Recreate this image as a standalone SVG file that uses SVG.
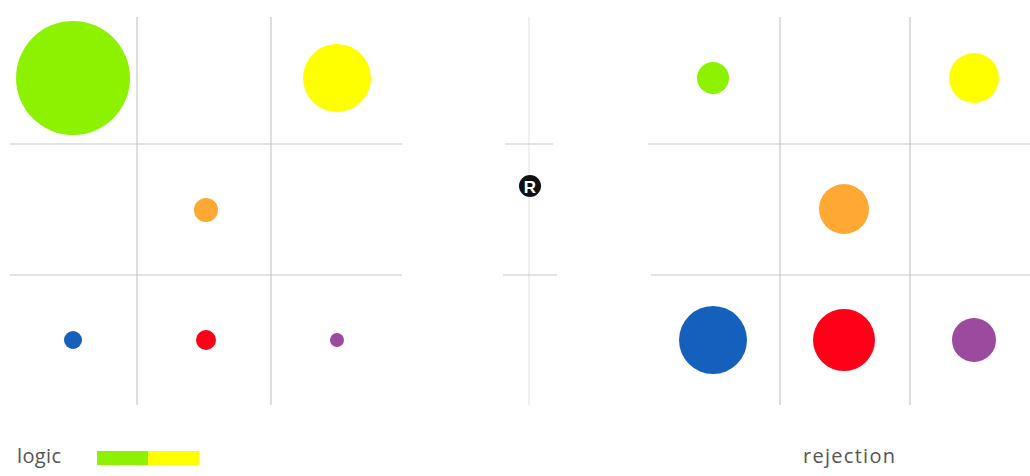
<svg xmlns="http://www.w3.org/2000/svg" width="1030" height="476" viewBox="0 0 1030 476">
<style>
.grid{stroke:#c8c8c8;stroke-width:1.2;fill:none}
.lbl{font-family:"Open Sans","Liberation Sans",sans-serif;font-size:20px;fill:#555}
.g{fill:#8cf200}.y{fill:#ffff00}.o{fill:#ffa834}.b{fill:#1560bd}.r{fill:#ff0018}.p{fill:#9b4a9e}
</style>
<rect width="1030" height="476" fill="#fff"/>
<g id="connectors">
<line class="grid" x1="137" y1="17" x2="137" y2="405"/>
<line class="grid" x1="271" y1="17" x2="271" y2="405"/>
<line class="grid" x1="10" y1="144" x2="402" y2="144"/>
<line class="grid" x1="10" y1="275" x2="402" y2="275"/>
<line class="grid" x1="529" y1="17" x2="529" y2="405" style="stroke:#e6e6e6"/>
<line class="grid" x1="505" y1="144" x2="553" y2="144"/>
<line class="grid" x1="503" y1="275" x2="557" y2="275"/>
<line class="grid" x1="780" y1="17" x2="780" y2="405"/>
<line class="grid" x1="910" y1="17" x2="910" y2="405"/>
<line class="grid" x1="648" y1="144" x2="1030" y2="144"/>
<line class="grid" x1="651" y1="275" x2="1030" y2="275"/>
</g>
<g id="left">
<circle class="g" cx="73" cy="78" r="57"/>
<circle class="y" cx="337" cy="78" r="34"/>
<circle class="o" cx="206" cy="210" r="12"/>
<circle class="b" cx="73" cy="340" r="9"/>
<circle class="r" cx="206" cy="340" r="10"/>
<circle class="p" cx="337" cy="340" r="7"/>
</g>
<g id="middle">
<circle cx="530" cy="186" r="11" fill="#111"/>
<text x="530" y="192.5" text-anchor="middle" font-family="Liberation Sans,sans-serif" font-weight="bold" font-size="17" fill="#fff">R</text>
</g>
<g id="right">
<circle class="g" cx="713" cy="78" r="16"/>
<circle class="y" cx="974" cy="78" r="25"/>
<circle class="o" cx="844" cy="209" r="25"/>
<circle class="b" cx="713" cy="340" r="34"/>
<circle class="r" cx="844" cy="340" r="31"/>
<circle class="p" cx="974" cy="340" r="22"/>
</g>
<g id="legend">
<text class="lbl" x="17" y="463" textLength="44">logic</text>
<rect x="97" y="451" width="51" height="14" fill="#8cf200"/>
<rect x="148" y="451" width="51" height="14" fill="#ffff00"/>
<text class="lbl" x="803" y="463" textLength="92">rejection</text>
</g>
</svg>
